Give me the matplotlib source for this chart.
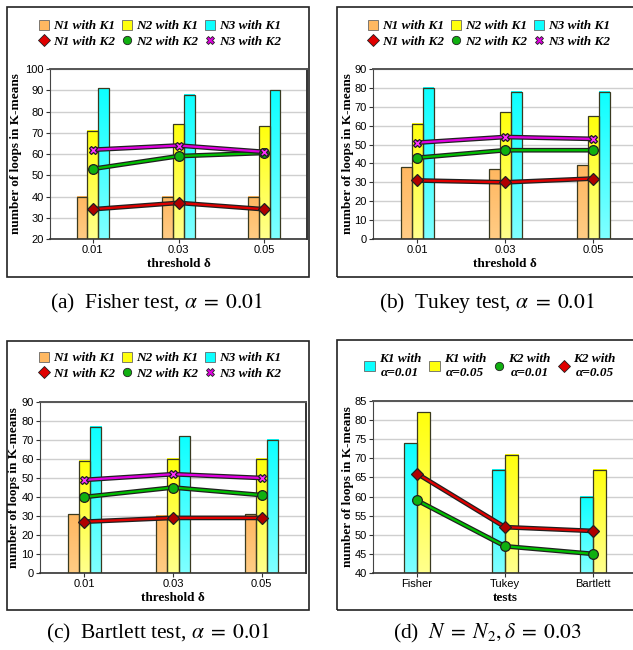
import numpy as np
import matplotlib
matplotlib.use("Agg")
import matplotlib.pyplot as plt
import matplotlib.patheffects as pe
from matplotlib.patches import Patch, Rectangle
from matplotlib.lines import Line2D
from matplotlib.font_manager import FontProperties

plt.rcParams['mathtext.fontset'] = 'stix'

# ---- data ----
thresholds = ['0.01', '0.03', '0.05']
tests = ['Fisher', 'Tukey', 'Bartlett']

# (a) Fisher test
fisher_n1_k1 = [40, 40, 40]
fisher_n2_k1 = [71, 74, 73]
fisher_n3_k1 = [91, 88, 90]
fisher_n1_k2 = [34, 37, 34]
fisher_n2_k2 = [53, 59, 60.5]
fisher_n3_k2 = [62, 64, 61]

# (b) Tukey test
tukey_n1_k1 = [38, 37, 39]
tukey_n2_k1 = [61, 67, 65]
tukey_n3_k1 = [80, 78, 78]
tukey_n1_k2 = [31, 30, 32]
tukey_n2_k2 = [43, 47, 47]
tukey_n3_k2 = [51, 54, 53]

# (c) Bartlett test
bartlett_n1_k1 = [31, 30, 31]
bartlett_n2_k1 = [59, 60, 60]
bartlett_n3_k1 = [77, 72, 70]
bartlett_n1_k2 = [27, 29, 29]
bartlett_n2_k2 = [40, 45, 41]
bartlett_n3_k2 = [49, 52, 50]

# (d) N = N2, delta = 0.03
k1_a001 = [74, 67, 60]
k1_a005 = [82, 71, 67]
k2_a001 = [59, 47, 45]
k2_a005 = [66, 52, 51]

# ---- styles ----
ORANGE = ((1.0, 0.72, 0.38), (1.0, 0.80, 0.52))
YELLOW = ((1.0, 1.0, 0.05), (1.0, 1.0, 0.55))
CYAN = ((0.05, 1.0, 1.0), (0.50, 1.0, 1.0))
RED = dict(line='#e00000', face='#b00000', marker='D')
GREEN = dict(line='#00c000', face='#10b010', marker='o')
MAGENTA = dict(line='#e000e0', face='#ff30ff', marker='X')

W, H = 633, 650
fig = plt.figure(figsize=(W / 100, H / 100), dpi=100)

tick_font = FontProperties(family='Liberation Sans', size=8)
label_font = FontProperties(family='Liberation Serif', weight='bold', size=9.5)
legend_font = FontProperties(family='Liberation Serif', weight='bold', style='italic', size=9.5)


def fax(l, t, r, b):
    return fig.add_axes([l / W, 1 - b / H, (r - l) / W, (b - t) / H])


def grad_bars(ax, xs, vals, width, ymin, colors):
    top, bottom = colors
    img = np.linspace(np.array(top), np.array(bottom), 64).reshape(64, 1, 3)
    for x, v in zip(xs, vals):
        ax.imshow(img, extent=[x - width / 2, x + width / 2, ymin, v],
                  aspect='auto', zorder=2, interpolation='bilinear')
    ax.bar(xs, np.array(vals) - ymin, width, bottom=ymin, facecolor='none',
           edgecolor='#3a3a20', linewidth=0.9, zorder=3)


def k2_line(ax, xs, vals, style):
    ax.plot(xs, vals, color=style['line'], lw=1.6, zorder=4,
            path_effects=[pe.Stroke(linewidth=3.4, foreground='#202020'), pe.Normal()])
    ax.plot(xs, vals, linestyle='none', marker=style['marker'], markersize=7 if style['marker'] == 'o' else 6,
            markerfacecolor=style['face'], markeredgecolor='#202020', markeredgewidth=0.9, zorder=5)


def style_axes(ax, ylim, yticks, xlabels, xlabel, ylabel_dx):
    ax.set_xlim(-0.5, 2.5)
    ax.set_ylim(*ylim)
    ax.set_yticks(yticks)
    ax.set_xticks(range(len(xlabels)))
    ax.set_xticklabels(xlabels)
    for t in ax.get_xticklabels() + ax.get_yticklabels():
        t.set_fontproperties(tick_font)
    ax.tick_params(axis='both', length=3, width=0.8, color='#333333', pad=1.5)
    ax.yaxis.grid(True, color='#cfcfcf', lw=1.0, zorder=0)
    ax.set_axisbelow(True)
    ax.spines['top'].set_color('#555555')
    ax.spines['top'].set_linewidth(1.4)
    ax.spines['right'].set_color('#333333')
    ax.spines['right'].set_linewidth(1.4)
    ax.spines['left'].set_color('#444444')
    ax.spines['bottom'].set_color('#333333')
    ax.spines['bottom'].set_linewidth(1.2)
    ax.set_ylabel('number of loops in K-means', fontproperties=label_font)
    # right edge of the rotated y label sits ylabel_dx pixels left of the axis
    width_px = ax.get_position().width * W
    ax.yaxis.set_label_coords(-ylabel_dx / width_px, 0.5)
    ax.set_xlabel(xlabel, fontproperties=label_font, labelpad=2)


def proxy(style):
    return Line2D([], [], linestyle='none', marker=style['marker'], markersize=6,
                  markerfacecolor=style['line'] if style['marker'] != 'o' else style['face'],
                  markeredgecolor='#202020', markeredgewidth=0.6)


def threshold_panel(ax, k1, k2, ylim, yticks, legend_xy, ylabel_dx):
    x = np.arange(3)
    bw = 0.125
    for i, (vals, col) in enumerate(zip(k1, [ORANGE, YELLOW, CYAN])):
        grad_bars(ax, x + (i - 1) * bw, vals, bw, ylim[0], col)
    for vals, st in zip(k2, [RED, GREEN, MAGENTA]):
        k2_line(ax, x, vals, st)
    style_axes(ax, ylim, yticks, thresholds, 'threshold δ', ylabel_dx)
    handles = []
    labels = []
    for n, col, st in zip(['N1', 'N2', 'N3'], [ORANGE, YELLOW, CYAN], [RED, GREEN, MAGENTA]):
        handles += [Patch(facecolor=col[0], edgecolor='#666666', lw=0.6), proxy(st)]
        labels += [n + ' with K1', n + ' with K2']
    fig.legend(handles, labels, loc='center', bbox_to_anchor=(legend_xy[0] / W, 1 - legend_xy[1] / H),
               ncol=3, frameon=False, prop=legend_font, handlelength=0.8, handleheight=0.8,
               handletextpad=0.3, columnspacing=0.5, labelspacing=0.25, borderpad=0)


# (a)
ax_a = fax(50, 69, 307, 239)
threshold_panel(ax_a, [fisher_n1_k1, fisher_n2_k1, fisher_n3_k1],
                [fisher_n1_k2, fisher_n2_k2, fisher_n3_k2], (20, 100), range(20, 101, 10), (160, 34), 28)

# (b)
ax_b = fax(373, 69, 637, 239)
threshold_panel(ax_b, [tukey_n1_k1, tukey_n2_k1, tukey_n3_k1],
                [tukey_n1_k2, tukey_n2_k2, tukey_n3_k2], (0, 90), range(0, 91, 10), (489, 34), 19)

# (c)
ax_c = fax(40, 402, 306, 573)
threshold_panel(ax_c, [bartlett_n1_k1, bartlett_n2_k1, bartlett_n3_k1],
                [bartlett_n1_k2, bartlett_n2_k2, bartlett_n3_k2], (0, 90), range(0, 91, 10), (160, 366), 20)

# (d)
ax_d = fax(373, 401, 637, 573)
x = np.arange(3)
bw = 0.15
grad_bars(ax_d, x - bw / 2, k1_a001, bw, 40, CYAN)
grad_bars(ax_d, x + bw / 2, k1_a005, bw, 40, YELLOW)
k2_line(ax_d, x, k2_a005, RED)
k2_line(ax_d, x, k2_a001, GREEN)
style_axes(ax_d, (40, 85), range(40, 86, 5), tests, 'tests', 19)
d_handles = [Patch(facecolor=CYAN[0], edgecolor='#666666', lw=0.6),
             Patch(facecolor=YELLOW[0], edgecolor='#666666', lw=0.6),
             proxy(GREEN), proxy(RED)]
d_labels = ['K1 with\nα=0.01', 'K1 with\nα=0.05', 'K2 with\nα=0.01', 'K2 with\nα=0.05']
leg = fig.legend(d_handles, d_labels, loc='center', bbox_to_anchor=(490 / W, 1 - 366 / H),
                 ncol=4, frameon=False, prop=legend_font, handlelength=0.8, handleheight=0.8,
                 handletextpad=0.3, columnspacing=0.6, borderpad=0)
for t in leg.get_texts():
    t.set_multialignment('center')

# panel frames
for (l, t, r, b) in [(7, 7, 309, 277), (337, 7, 645, 277), (7, 341, 309, 610), (337, 340, 645, 610)]:
    fig.patches.append(Rectangle((l / W, 1 - b / H), (r - l) / W, (b - t) / H,
                                 transform=fig.transFigure, fill=False, edgecolor='#222222', lw=1.2))

# captions
cap = dict(ha='center', va='center', fontsize=15.5, family='Liberation Serif')
fig.text(157 / W, 1 - 303 / H, r'(a)  Fisher test, $\alpha\;=\;0.01$', **cap)
fig.text(487 / W, 1 - 303 / H, r'(b)  Tukey test, $\alpha\;=\;0.01$', **cap)
fig.text(158 / W, 1 - 633 / H, r'(c)  Bartlett test, $\alpha\;=\;0.01$', **cap)
fig.text(487 / W, 1 - 633 / H, r'(d)  $N\;=\;N_2, \delta\;=\;0.03$', **cap)

fig.savefig('out.png', dpi=100)
